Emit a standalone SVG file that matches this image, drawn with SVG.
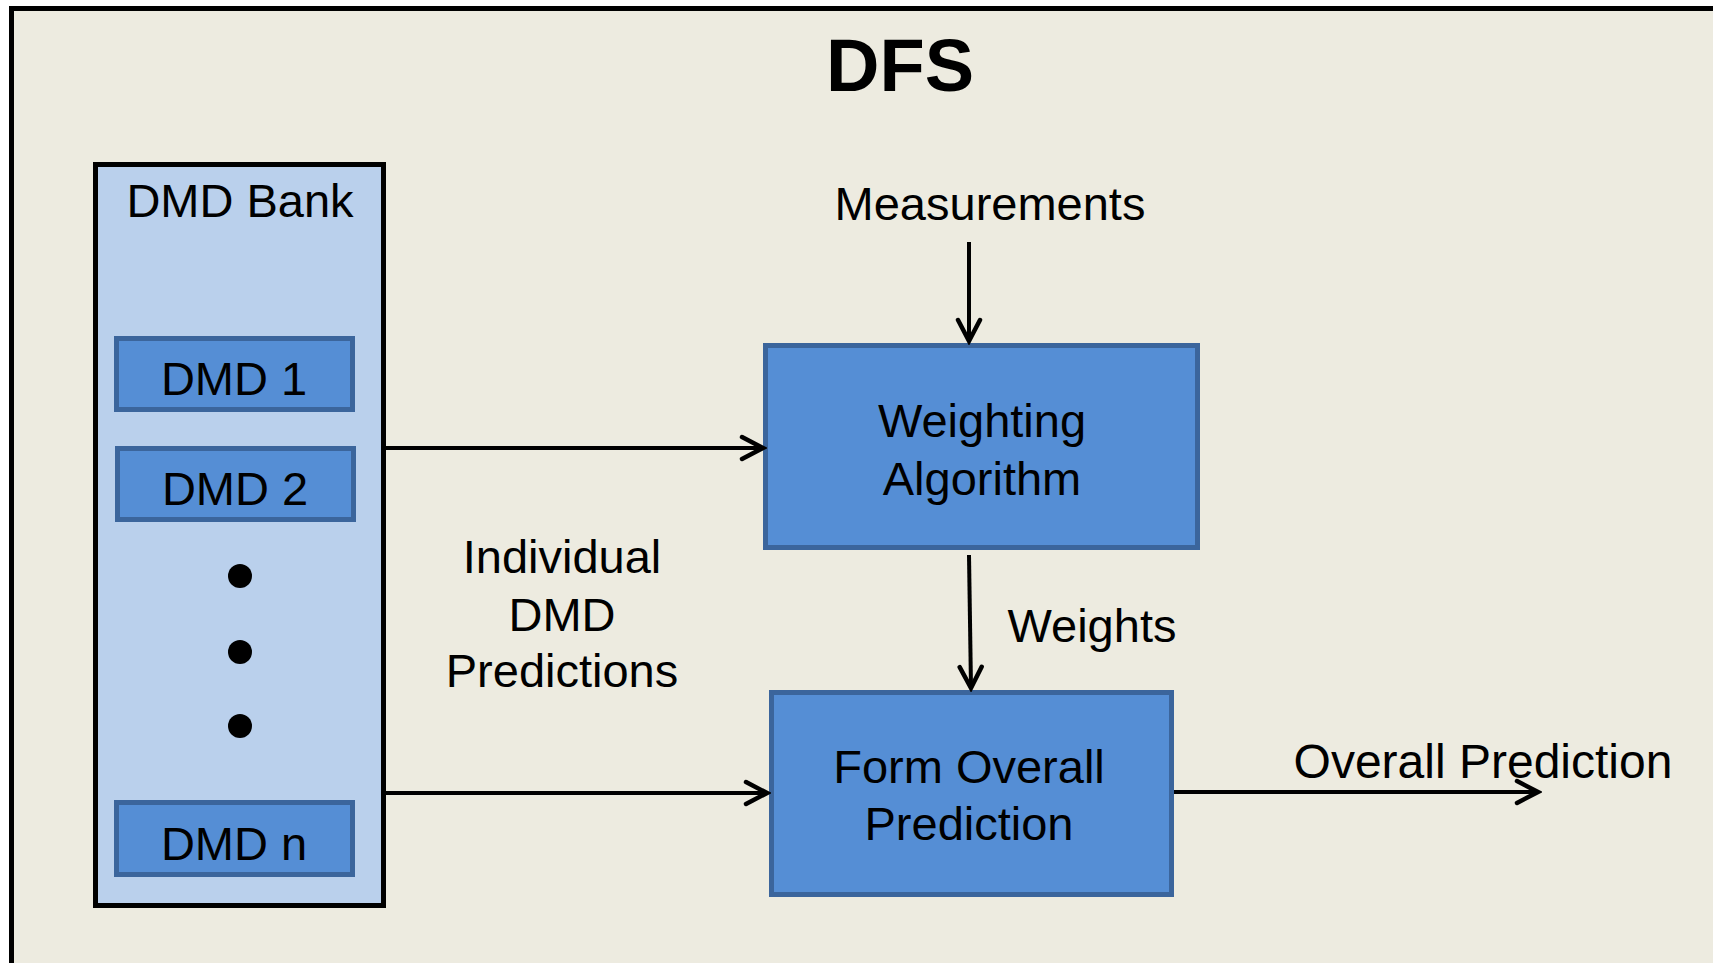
<svg xmlns="http://www.w3.org/2000/svg" width="1713" height="963" viewBox="0 0 1713 963">
<style>
text{font-family:"Liberation Sans",Arial,sans-serif;fill:#000;text-anchor:middle}
.lbl{font-size:47px}
.blue{fill:#558ED5;stroke:#3B659C;stroke-width:5}
.conn{stroke:#000;stroke-width:4;fill:none}
</style>
<defs>
<marker id="arr" markerUnits="userSpaceOnUse" viewBox="-24 -14 28 28" refX="0" refY="0" markerWidth="28" markerHeight="28" orient="auto">
<path d="M-21,-11 L0,0 L-21,11" fill="none" stroke="#000" stroke-width="4.5" stroke-linecap="round" stroke-linejoin="miter"/>
</marker>
</defs>
<rect x="0" y="0" width="1713" height="963" fill="#fff"/>
<rect id="frame" x="11.5" y="8.5" width="1800" height="1000" fill="#EDEBE0" stroke="#000" stroke-width="5"/>
<text id="title" x="900" y="91" style="font-size:74px;font-weight:bold">DFS</text>
<g id="bank">
<rect x="95.5" y="164.5" width="288" height="741" fill="#BAD0EC" stroke="#000" stroke-width="5"/>
<text class="lbl" x="240" y="217">DMD Bank</text>
</g>
<g id="dmd1"><rect class="blue" x="116.5" y="338.5" width="236" height="71"/><text class="lbl" x="234" y="395">DMD 1</text></g>
<g id="dmd2"><rect class="blue" x="117.5" y="448.5" width="236" height="71"/><text class="lbl" x="235" y="505">DMD 2</text></g>
<g id="dots" fill="#000"><circle cx="240" cy="576" r="12"/><circle cx="240" cy="652" r="12"/><circle cx="240" cy="726" r="12"/></g>
<g id="dmdn"><rect class="blue" x="116.5" y="802.5" width="236" height="72"/><text class="lbl" x="234" y="860">DMD n</text></g>
<g id="weighting"><rect class="blue" x="765.5" y="345.5" width="432" height="202"/><text class="lbl" x="982" y="437">Weighting</text><text class="lbl" x="982" y="495">Algorithm</text></g>
<g id="form"><rect class="blue" x="771.5" y="692.5" width="400" height="202"/><text class="lbl" x="969" y="783">Form Overall</text><text class="lbl" x="969" y="840">Prediction</text></g>
<g id="labels">
<text class="lbl" x="990" y="220">Measurements</text>
<text class="lbl" x="562" y="573">Individual</text>
<text class="lbl" x="562" y="631">DMD</text>
<text class="lbl" x="562" y="687">Predictions</text>
<text class="lbl" x="1092" y="642">Weights</text>
<text x="1483" y="778" style="font-size:48px">Overall Prediction</text>
</g>
<g id="connectors" class="conn">
<line class="conn" x1="969" y1="242" x2="969" y2="341" marker-end="url(#arr)"/>
<line class="conn" x1="386" y1="448" x2="763" y2="448" marker-end="url(#arr)"/>
<line class="conn" x1="386" y1="793" x2="767" y2="793" marker-end="url(#arr)"/>
<line class="conn" x1="969" y1="555" x2="971" y2="688" marker-end="url(#arr)"/>
<line class="conn" x1="1174" y1="792" x2="1538" y2="792" marker-end="url(#arr)"/>
</g>
</svg>
